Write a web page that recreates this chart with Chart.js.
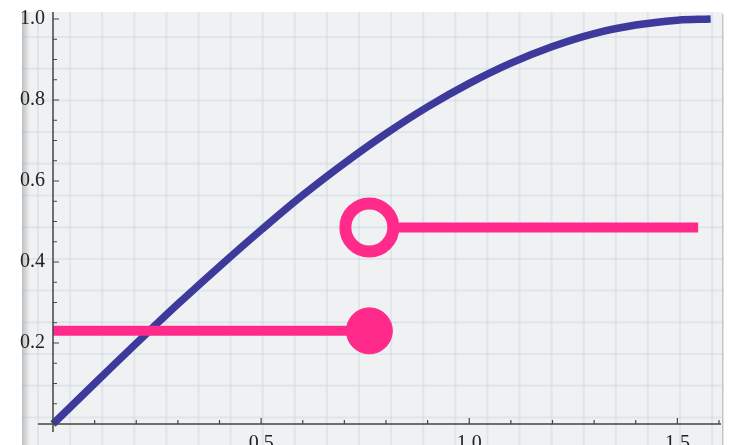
<!DOCTYPE html>
<html>
<head>
<meta charset="utf-8">
<script src="https://cdn.jsdelivr.net/npm/chart.js@4"></script>
<style>
  html, body { margin: 0; padding: 0; background: #ffffff; }
  #wrap { width: 731px; height: 445px; position: relative; }
</style>
</head>
<body>
<div id="wrap"><canvas id="chart" width="731" height="445"></canvas></div>
<script>
// sine-like curve
const curveX = [0, 0.1, 0.2, 0.3, 0.4, 0.5, 0.6, 0.7, 0.8, 0.9, 1.0, 1.1, 1.2, 1.3, 1.4, 1.5, 1.58];
const curveY = [0, 0.1, 0.199, 0.296, 0.389, 0.479, 0.565, 0.644, 0.717, 0.783, 0.841, 0.891, 0.932, 0.964, 0.985, 0.997, 1.0];

// step pieces
const lowStepX = [0, 0.76];
const lowStepY = [0.23, 0.23];
const highStepX = [0.83, 1.55];
const highStepY = [0.485, 0.485];
const openDot = { x: 0.76, y: 0.485 };

// axis ticks
const xTickLabels = [0.5, 1.0, 1.5];
const yTickLabels = [0.2, 0.4, 0.6, 0.8, 1.0];
const xMinor = [0.1, 0.2, 0.3, 0.4, 0.6, 0.7, 0.8, 0.9, 1.1, 1.2, 1.3, 1.4, 1.6];
const yMinor = [0.05, 0.1, 0.15, 0.25, 0.3, 0.35, 0.45, 0.5, 0.55, 0.65, 0.7, 0.75, 0.85, 0.9, 0.95];

const pink = "#ff2a8a";
const blue = "#3d3a9c";
const ink = "#222222";
const serif = "'Liberation Serif', 'DejaVu Serif', serif";

const toPoints = (xs, ys) => xs.map((x, i) => ({ x: x, y: ys[i] }));

// graph paper behind the plot
const paper = {
  id: "paper",
  beforeDraw(chart) {
    const ctx = chart.ctx;
    ctx.save();
    ctx.fillStyle = "#eff1f3";
    ctx.fillRect(22, 12, 701, 433);
    ctx.strokeStyle = "rgba(200, 218, 224, 0.45)";
    ctx.lineWidth = 2;
    for (let x = 38; x < 722; x += 32.1) {
      ctx.beginPath(); ctx.moveTo(x, 12); ctx.lineTo(x, 445); ctx.stroke();
    }
    for (let y = 37 - 31.7; y < 445; y += 31.7) {
      if (y < 12) continue;
      ctx.beginPath(); ctx.moveTo(22, y); ctx.lineTo(722, y); ctx.stroke();
    }
    // left fold shadow and right edge
    const g = ctx.createLinearGradient(22, 0, 30, 0);
    g.addColorStop(0, "rgba(150,150,150,0.55)");
    g.addColorStop(1, "rgba(150,150,150,0)");
    ctx.fillStyle = g;
    ctx.fillRect(22, 12, 8, 433);
    ctx.fillStyle = "#c4c4c4";
    ctx.fillRect(722, 14, 1.5, 431);
    ctx.restore();
  }
};

// axis lines with inward ticks
const axesDraw = {
  id: "axesDraw",
  afterDatasetsDraw(chart) {
    const ctx = chart.ctx;
    const xs = chart.scales.x, ys = chart.scales.y;
    const x0 = xs.getPixelForValue(0), y0 = ys.getPixelForValue(0);
    ctx.save();
    ctx.strokeStyle = "#444";
    ctx.lineWidth = 1.5;
    ctx.beginPath();
    ctx.moveTo(x0, y0 + 8); ctx.lineTo(x0, 12);
    ctx.moveTo(x0 - 15, y0); ctx.lineTo(721, y0);
    ctx.stroke();
    ctx.lineWidth = 1.2;
    ctx.beginPath();
    xTickLabels.forEach(v => { const p = xs.getPixelForValue(v); ctx.moveTo(p, y0); ctx.lineTo(p, y0 - 6); });
    xMinor.forEach(v => { const p = xs.getPixelForValue(v); ctx.moveTo(p, y0); ctx.lineTo(p, y0 - 4); });
    yTickLabels.forEach(v => { const p = ys.getPixelForValue(v); ctx.moveTo(x0, p); ctx.lineTo(x0 + 6, p); });
    yMinor.forEach(v => { const p = ys.getPixelForValue(v); ctx.moveTo(x0, p); ctx.lineTo(x0 + 4, p); });
    ctx.stroke();
    ctx.restore();
  }
};

const zeroPad = s => { s.paddingLeft = 0; s.paddingRight = 0; s.paddingTop = 0; s.paddingBottom = 0; };

new Chart(document.getElementById("chart"), {
  type: "line",
  data: {
    datasets: [
      {
        data: [openDot],
        showLine: false,
        pointRadius: 24,
        pointBorderWidth: 12,
        pointBorderColor: pink,
        pointBackgroundColor: "rgba(0,0,0,0)",
        clip: false,
      },
      {
        data: toPoints(highStepX, highStepY),
        borderColor: pink,
        borderWidth: 10,
        pointRadius: 0,
        clip: false,
      },
      {
        data: toPoints(lowStepX, lowStepY),
        borderColor: pink,
        borderWidth: 10,
        pointRadius: [0, 23],
        pointBorderWidth: 1,
        pointBackgroundColor: pink,
        pointBorderColor: pink,
        clip: false,
      },
      {
        data: toPoints(curveX, curveY),
        borderColor: blue,
        borderWidth: 7.5,
        pointRadius: 0,
        tension: 0.4,
        clip: false,
      },
    ],
  },
  options: {
    responsive: false,
    animation: false,
    events: [],
    layout: { autoPadding: false, padding: { top: 19, right: 12, left: 0, bottom: 0 } },
    plugins: { legend: { display: false }, tooltip: { enabled: false } },
    scales: {
      x: {
        type: "linear",
        min: 0,
        max: 1.6,
        afterFit: s => { s.height = 21; zeroPad(s); },
        afterBuildTicks: s => { s.ticks = xTickLabels.map(v => ({ value: v })); },
        grid: { display: false },
        border: { display: false },
        ticks: {
          padding: 0,
          color: ink,
          font: { family: serif, size: 20 },
          callback: v => v.toFixed(1),
        },
      },
      y: {
        type: "linear",
        min: 0,
        max: 1,
        afterFit: s => { s.width = 53; zeroPad(s); },
        afterBuildTicks: s => { s.ticks = yTickLabels.map(v => ({ value: v })); },
        grid: { display: false },
        border: { display: false },
        ticks: {
          padding: 0,
          color: ink,
          font: { family: serif, size: 20 },
          callback: v => v.toFixed(1),
        },
      },
    },
  },
  plugins: [paper, axesDraw],
});
</script>
</body>
</html>
